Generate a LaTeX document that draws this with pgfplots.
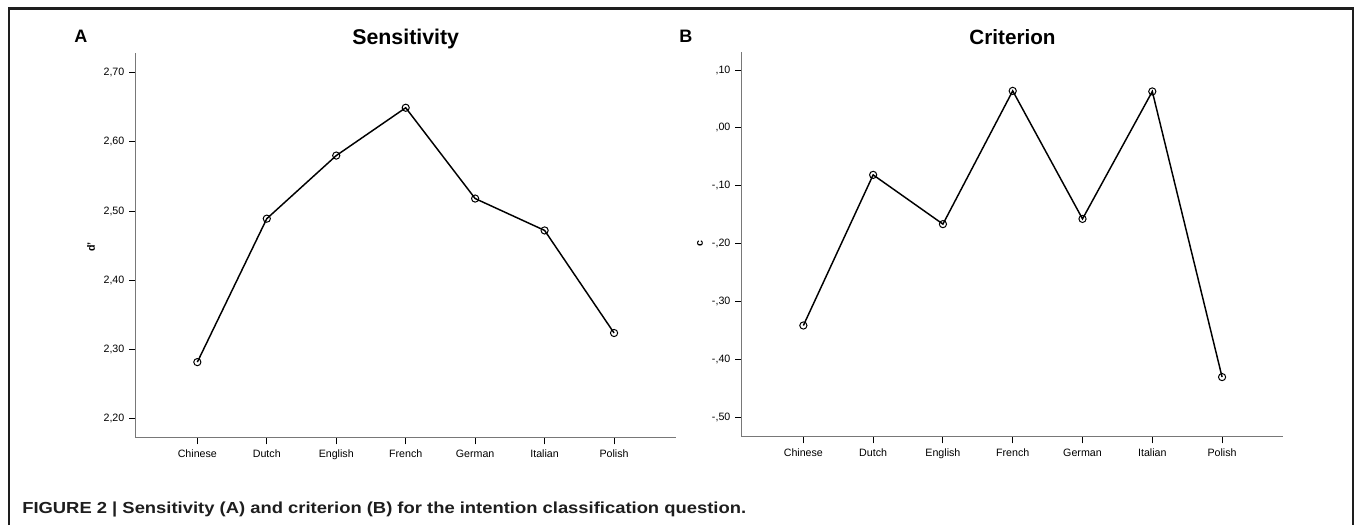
\documentclass[border=0pt]{standalone}
\usepackage{pgfplots}
\pgfplotsset{compat=1.18}
\usepackage{fontspec}
\setmainfont{Liberation Sans}
\newfontfamily\capfont[FakeStretch=1.15]{Liberation Sans}

\definecolor{axisgray}{RGB}{120,120,120}
\definecolor{framegray}{RGB}{30,30,30}

\pgfplotstableread{
x lang    dprime
0 Chinese 2.282
1 Dutch   2.489
2 English 2.580
3 French  2.649
4 German  2.518
5 Italian 2.472
6 Polish  2.324
}\sensdata

\pgfplotstableread{
x lang    crit
0 Chinese -0.341
1 Dutch   -0.081
2 English -0.166
3 French   0.064
4 German  -0.157
5 Italian  0.063
6 Polish  -0.430
}\critdata

\pgfplotsset{
  spss/.style={
    scale only axis,
    axis lines*=left,
    axis line style={axisgray, line width=0.9pt},
    tick align=outside,
    major tick length=5pt,
    tick style={black, line width=0.7pt},
    xtick=data,
    xticklabels={Chinese,Dutch,English,French,German,Italian,Polish},
    tick label style={font=\fontsize{8}{9}\selectfont},
    xticklabel style={text height=1.6ex, text depth=0.45ex, yshift=1.8pt},
    clip=false,
  },
  spssline/.style={black, line width=1.1pt, mark=o,
    mark size=2.7pt, mark options={line width=0.75pt, fill=white}},
}

\begin{document}
\begin{tikzpicture}[x=0.75pt, y=0.75pt]
\path[use as bounding box] (0,0) rectangle (1358,525);

% outer frame
\draw[framegray, line width=2.2pt] (9,0) -- (9,516.5) -- (1353,516.5) -- (1353,0);

\begin{axis}[spss,
  at={(101.8pt,65.5pt)}, anchor=south west,
  width=405pt, height=288.5pt,
  xmin=-0.887, xmax=6.888,
  ymin=2.173, ymax=2.728,
  ytick={2.2,2.3,2.4,2.5,2.6,2.7},
  yticklabels={{2,20},{2,30},{2,40},{2,50},{2,60},{2,70}},
]
\addplot[spssline] table[x=x, y=dprime] {\sensdata};
\end{axis}

\begin{axis}[spss,
  at={(556.3pt,66.2pt)}, anchor=south west,
  width=406.2pt, height=288.5pt,
  xmin=-0.883, xmax=6.878,
  ymin=-0.533, ymax=0.131,
  ytick={-0.5,-0.4,-0.3,-0.2,-0.1,0,0.1},
  yticklabels={{-,50},{-,40},{-,30},{-,20},{-,10},{,00},{,10}},
]
\addplot[spssline] table[x=x, y=crit] {\critdata};
\end{axis}

% titles and panel letters
\node[anchor=base, font=\fontsize{16}{18}\selectfont\bfseries] at (405.7,480) {Sensitivity};
\node[anchor=base, font=\fontsize{15.5}{18}\selectfont\bfseries] at (1012.5,480) {Criterion};
\node[anchor=base west, font=\fontsize{13.5}{16}\selectfont\bfseries, inner sep=0pt] at (74,482) {A};
\node[anchor=base west, font=\fontsize{13.5}{16}\selectfont\bfseries, inner sep=0pt] at (679,482) {B};

% y axis labels
\node[rotate=90, font=\fontsize{8}{9}\selectfont\bfseries] at (91,278) {d'};
\node[rotate=90, font=\fontsize{8}{9}\selectfont\bfseries] at (700,281) {c};

% caption
\node[anchor=base west, inner sep=0pt, font=\capfont\fontsize{12}{14}\selectfont\bfseries, text=framegray] at (22,12)
  {FIGURE 2 | Sensitivity (A) and criterion (B) for the intention classification question.};
\end{tikzpicture}
\end{document}
